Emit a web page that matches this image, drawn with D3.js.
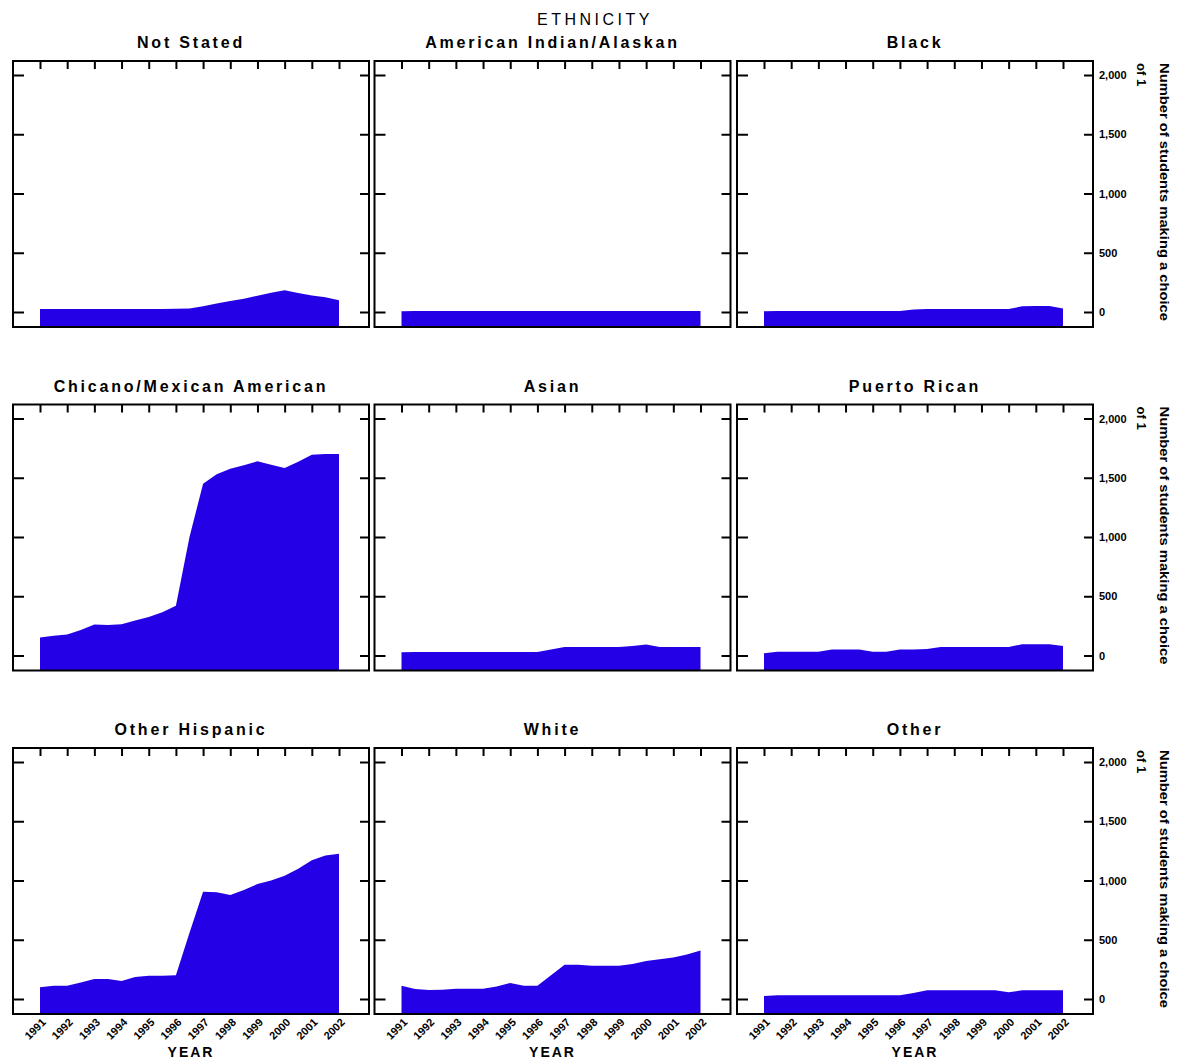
<!DOCTYPE html>
<html>
<head>
<meta charset="utf-8">
<script src="https://cdn.jsdelivr.net/npm/d3@7"></script>
<style>
  html, body { margin: 0; padding: 0; background: #fff; }
  svg { display: block; font-family: "Liberation Sans", Arial, sans-serif; }
</style>
</head>
<body>
<svg id="chart" width="1179" height="1060"></svg>
<script>
// ---------- data ----------
const years = ["1991","1992","1993","1994","1995","1996","1997","1998","1999","2000","2001","2002"];
const categories = ["Not Stated","American Indian/Alaskan","Black",
                    "Chicano/Mexican American","Asian","Puerto Rican",
                    "Other Hispanic","White","Other"];
const yTicks = [0, 500, 1000, 1500, 2000];
// values at half-year steps (23 points spanning first to last year)
const notStated   = [25,25,25,25,25,25,25,25,25,25,27,30,48,72,92,112,138,162,183,160,140,125,100];
const amIndian    = [6,8,8,8,8,8,8,8,8,8,8,8,8,8,8,8,8,8,8,8,8,8,8];
const black       = [6,8,8,8,8,8,8,8,8,8,8,22,25,25,25,25,25,25,25,48,50,50,30];
const chicano     = [152,166,178,215,262,258,264,295,325,365,420,1000,1450,1530,1575,1605,1639,1610,1582,1635,1695,1700,1700];
const asian       = [28,30,30,30,30,30,30,30,30,30,30,50,72,72,72,72,72,80,92,72,72,72,72];
const puertoRican = [18,31,31,31,31,50,50,50,31,31,50,50,55,72,72,72,72,72,72,95,95,95,80];
const otherHisp   = [100,112,112,140,168,168,152,185,196,196,200,560,906,900,878,920,970,1000,1040,1100,1170,1210,1226];
const white       = [112,85,75,78,87,87,87,105,135,112,112,200,290,290,281,281,281,295,320,335,350,375,410];
const other       = [25,31,31,31,31,31,31,31,31,31,31,50,73,73,73,73,73,73,56,73,73,73,73];
const series = [notStated, amIndian, black, chicano, asian, puertoRican, otherHisp, white, other];

const axisTitle1 = "Number of students making a choice";
const axisTitle2 = "of 1";

// ---------- layout ----------
const svg = d3.select("#chart");
const colLeft = [13, 374.5, 737];
const rowTop = [61, 404.5, 748];
const W = 356, H = 266;
const fillColor = "#2400e6";

const x = d3.scaleLinear().domain([0, years.length - 1]).range([27, 326]);
const y = d3.scaleLinear().domain([0, 2000]).range([251, 14]);
const area = d3.area()
  .x((d, i) => x(i / 2))
  .y0(H)
  .y1(d => y(d));

// main title
svg.append("text")
  .attr("x", 595).attr("y", 25)
  .attr("text-anchor", "middle")
  .attr("font-size", 16).attr("letter-spacing", 3.5)
  .text("ETHNICITY");

categories.forEach((cat, idx) => {
  const r = Math.floor(idx / 3), c = idx % 3;
  const g = svg.append("g").attr("transform", `translate(${colLeft[c]},${rowTop[r]})`);

  // panel title
  g.append("text")
    .attr("x", W / 2).attr("y", -13)
    .attr("text-anchor", "middle")
    .attr("font-size", 16).attr("font-weight", "bold")
    .attr("letter-spacing", 2.8)
    .text(cat);

  // area
  g.append("path")
    .datum(series[idx])
    .attr("d", area)
    .attr("fill", fillColor);

  // inner ticks: top
  const top = g.append("g")
    .call(d3.axisTop(x).tickValues(d3.range(years.length)).tickSize(-8).tickFormat(""));
  top.select(".domain").remove();
  // left
  const left = g.append("g")
    .call(d3.axisLeft(y).tickValues(yTicks).tickSize(-11).tickFormat(""));
  left.select(".domain").remove();
  // right
  const right = g.append("g").attr("transform", `translate(${W},0)`)
    .call(d3.axisRight(y).tickValues(yTicks).tickSize(-9).tickPadding(6)
      .tickFormat(c === 2 ? d3.format(",") : ""));
  right.select(".domain").remove();
  right.selectAll("text").attr("font-size", 11).attr("font-weight", "bold").attr("fill", "#000");
  g.selectAll(".tick line").attr("stroke", "#000").attr("stroke-width", 2);

  // border
  g.append("rect")
    .attr("width", W).attr("height", H)
    .attr("fill", "none").attr("stroke", "#000").attr("stroke-width", 2);

  // bottom row: year labels + axis title
  if (r === 2) {
    const bottom = g.append("g").attr("transform", `translate(0,${H})`)
      .call(d3.axisBottom(x).tickValues(d3.range(years.length)).tickSize(0).tickPadding(0)
        .tickFormat(i => years[i]));
    bottom.select(".domain").remove();
    bottom.selectAll("text")
      .attr("font-size", 11).attr("font-weight", "bold").attr("fill", "#000")
      .attr("text-anchor", "end")
      .attr("dy", 0)
      .attr("transform", d => `translate(6,9) rotate(-45)`);
    g.append("text")
      .attr("x", W / 2).attr("y", H + 43)
      .attr("text-anchor", "middle")
      .attr("font-size", 14).attr("font-weight", "bold").attr("letter-spacing", 2)
      .text("YEAR");
  }

  // right axis title per row
  if (c === 2) {
    g.append("text")
      .attr("transform", `translate(${W + 67},2) rotate(90)`)
      .attr("font-size", 13).attr("font-weight", "bold")
      .attr("textLength", 258).attr("lengthAdjust", "spacingAndGlyphs")
      .text(axisTitle1);
    g.append("text")
      .attr("transform", `translate(${W + 44},2) rotate(90)`)
      .attr("font-size", 13).attr("font-weight", "bold")
      .text(axisTitle2);
  }
});
</script>
</body>
</html>
